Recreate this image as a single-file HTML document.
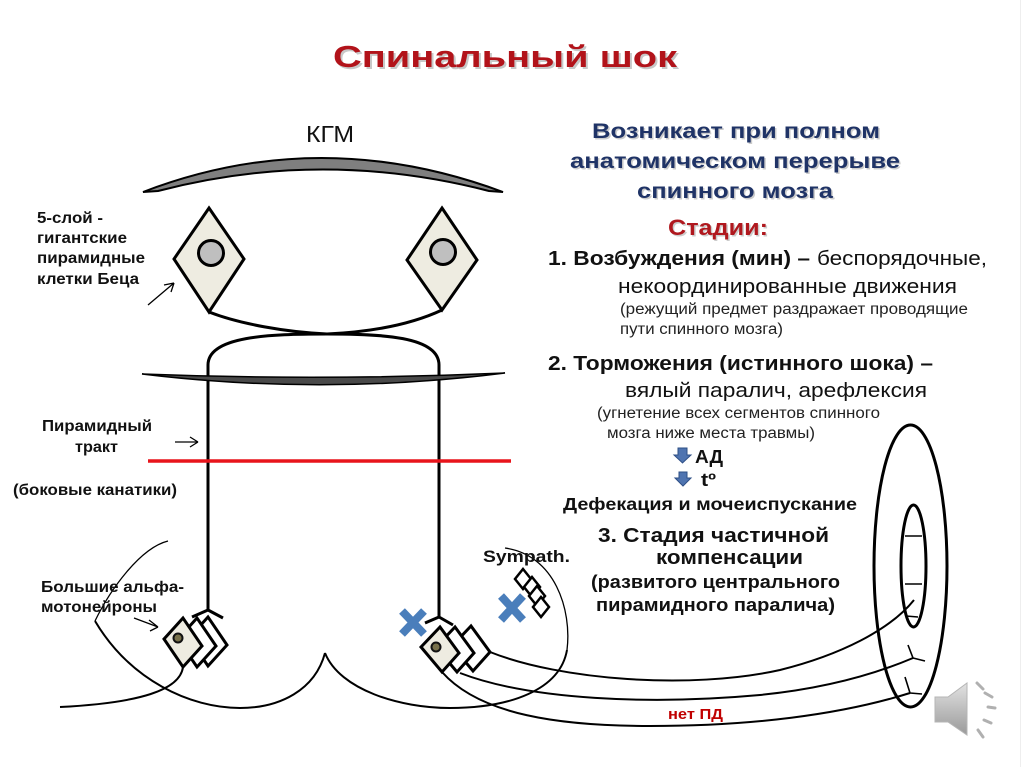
<!DOCTYPE html>
<html>
<head>
<meta charset="utf-8">
<style>
html,body{margin:0;padding:0;background:#fff;}
svg{display:block;}
text{font-family:"Liberation Sans","DejaVu Sans",sans-serif;}
</style>
</head>
<body>
<svg width="1024" height="767" viewBox="0 0 1024 767" xmlns="http://www.w3.org/2000/svg">
<defs>
<linearGradient id="spk" x1="0" y1="0" x2="0" y2="1">
<stop offset="0" stop-color="#e2e2e2"/>
<stop offset="1" stop-color="#9a9a9a"/>
</linearGradient>
</defs>
<rect width="1024" height="767" fill="#fff"/>
<line x1="1020.5" y1="0" x2="1020.5" y2="767" stroke="#eeeeee" stroke-width="1"/>

<!-- Title -->
<text x="335" y="69" font-size="31" font-weight="bold" fill="#9a9a9a" fill-opacity="0.55" textLength="344" lengthAdjust="spacingAndGlyphs">Спинальный шок</text>
<text x="333" y="67" font-size="31" font-weight="bold" fill="#b2131a" textLength="344" lengthAdjust="spacingAndGlyphs">Спинальный шок</text>

<!-- KGM -->
<text x="306" y="142" font-size="23" fill="#111" textLength="48" lengthAdjust="spacingAndGlyphs">КГМ</text>

<!-- Skull arc -->
<path d="M143,192 Q320,124 503,192 L489,191 Q322,148 158,191 Z" fill="#7f7f7f" stroke="#000" stroke-width="2"/>

<!-- Crossing tracts -->
<path d="M209,312 C 240,324 285,332 327,334 C 380,334 439,336 439,365 L439,617" fill="none" stroke="#000" stroke-width="3"/>
<path d="M442,310 C 410,325 370,332 327,334 C 270,334 208,336 208,365 L208,610" fill="none" stroke="#000" stroke-width="3"/>

<!-- Diamonds (Betz cells) -->
<polygon points="209,208 244,259 209,312 174,259" fill="#eeece1" stroke="#000" stroke-width="3" stroke-linejoin="miter"/>
<circle cx="211" cy="253" r="12.5" fill="#bfbfbf" stroke="#000" stroke-width="3"/>
<polygon points="442,208 477,260 442,310 407,260" fill="#eeece1" stroke="#000" stroke-width="3"/>
<circle cx="443" cy="252" r="12.5" fill="#bfbfbf" stroke="#000" stroke-width="3"/>

<!-- Lens line -->
<path d="M142,374 Q323,381 505,373 Q323,396 142,374 Z" fill="#4a4a4a" stroke="#000" stroke-width="1.5"/>

<!-- Red line -->
<line x1="148" y1="461" x2="511" y2="461" stroke="#e8141b" stroke-width="3.5"/>

<!-- Forks -->
<path d="M208,610 L192,617 M208,610 L223,618" fill="none" stroke="#000" stroke-width="3"/>
<path d="M439,617 L425,623 M439,617 L453,625" fill="none" stroke="#000" stroke-width="3"/>

<!-- Left U curves -->
<path d="M168,541 C 140,548 110,590 95,621" fill="none" stroke="#000" stroke-width="1.3"/>
<path d="M95,621 C 130,680 190,708 240,708 C 280,708 315,690 325,653" fill="none" stroke="#000" stroke-width="2"/>
<!-- Right U curves -->
<path d="M325,653 C 340,690 400,708 450,708 C 510,708 560,690 567,650" fill="none" stroke="#000" stroke-width="2"/>
<path d="M567,650 C 572,610 555,555 505,548" fill="none" stroke="#000" stroke-width="1.3"/>

<!-- Left axon -->
<path d="M183,667 C 180,690 140,703 60,707" fill="none" stroke="#000" stroke-width="2"/>

<!-- Right axons -->
<path d="M490,652 C 560,680 690,690 780,670 C 840,655 890,630 914,600" fill="none" stroke="#000" stroke-width="2"/>
<path d="M906,616 L918,617" fill="none" stroke="#000" stroke-width="1.5"/>
<path d="M460,673 C 530,700 650,705 760,695 C 830,688 880,672 913,658" fill="none" stroke="#000" stroke-width="2"/>
<path d="M913,658 L908,645 M913,658 L925,661" fill="none" stroke="#000" stroke-width="1.6"/>
<path d="M442,672 C 480,715 560,726 650,726 C 750,726 840,715 910,693" fill="none" stroke="#000" stroke-width="2"/>
<path d="M910,693 L905,677 M910,693 L922,694" fill="none" stroke="#000" stroke-width="1.6"/>

<!-- Left motoneuron -->
<polygon points="208,617 189,638 208,666 227,645" fill="#fff" stroke="#000" stroke-width="3"/>
<polygon points="197,618 178,639 197,667 216,646" fill="#fff" stroke="#000" stroke-width="3"/>
<polygon points="183,618 164,639 183,667 202,646" fill="#eeece1" stroke="#000" stroke-width="3"/>
<circle cx="178" cy="638" r="4.5" fill="#77704a" stroke="#111" stroke-width="2"/>

<!-- Right motoneuron -->
<polygon points="471,626 452,646 473,671 490,652" fill="#fff" stroke="#000" stroke-width="3"/>
<polygon points="455,627 436,647 457,672 474,653" fill="#fff" stroke="#000" stroke-width="3"/>
<polygon points="440,627 421,647 442,672 459,653" fill="#eeece1" stroke="#000" stroke-width="3"/>
<circle cx="436" cy="647" r="4.5" fill="#77704a" stroke="#111" stroke-width="2"/>

<!-- Sympath diamonds -->
<polygon points="523,569 531,579 523,589 515,579" fill="#fff" stroke="#000" stroke-width="2.5"/>
<polygon points="532,577 540,587 532,597 524,587" fill="#fff" stroke="#000" stroke-width="2.5"/>
<polygon points="537,586 545,596 537,606 529,596" fill="#fff" stroke="#000" stroke-width="2.5"/>
<polygon points="541,597 549,607 541,617 533,607" fill="#fff" stroke="#000" stroke-width="2.5"/>

<!-- Blue X marks -->
<g stroke="#4a7ebb" stroke-width="8">
<path d="M402,611 L424,634 M424,611 L402,634"/>
<path d="M501,596 L523,620 M523,596 L501,620"/>
</g>

<!-- Ring -->
<ellipse cx="910.5" cy="566" rx="36.5" ry="141" fill="none" stroke="#000" stroke-width="3"/>
<ellipse cx="913.5" cy="566" rx="12.5" ry="61" fill="none" stroke="#000" stroke-width="3"/>
<path d="M905,536 L922,536 M905,584 L922,584" stroke="#000" stroke-width="1.5"/>

<!-- Speaker -->
<polygon points="935,697 948,697 967,683 967,735 948,722 935,722" fill="url(#spk)" stroke="#b5b5b5" stroke-width="1"/>
<g stroke="#b0b0b0" stroke-width="3" stroke-linecap="round">
<path d="M977,683 L983,689"/>
<path d="M985,693 L992,697"/>
<path d="M988,707 L995,708"/>
<path d="M984,720 L991,723"/>
<path d="M978,730 L983,737"/>
</g>

<!-- Label arrows -->
<g stroke="#000" stroke-width="1.3" fill="none">
<path d="M148,305 L174,283 M174,283 L164,285 M174,283 L171,292"/>
<path d="M175,442 L198,442 M198,442 L190,437 M198,442 L190,447"/>
<path d="M134,618 L158,627 M158,627 L149,620 M158,627 L150,631"/>
</g>

<!-- Blue down arrows -->
<polygon points="678,448 687,448 687,455 691,455 682.5,463 674,455 678,455" fill="#4f74b0" stroke="#2e4f86" stroke-width="1"/>
<polygon points="679,472 687,472 687,478 691,478 683,486 675,478 679,478" fill="#4f74b0" stroke="#2e4f86" stroke-width="1"/>

<!-- Left labels -->
<g font-size="16" font-weight="bold" fill="#111">
<text x="37" y="223" textLength="66" lengthAdjust="spacingAndGlyphs">5-слой -</text>
<text x="37" y="243" textLength="90" lengthAdjust="spacingAndGlyphs">гигантские</text>
<text x="37" y="263" textLength="108" lengthAdjust="spacingAndGlyphs">пирамидные</text>
<text x="37" y="284" textLength="102" lengthAdjust="spacingAndGlyphs">клетки Беца</text>
<text x="42" y="431" textLength="110" lengthAdjust="spacingAndGlyphs">Пирамидный</text>
<text x="75" y="452" textLength="43" lengthAdjust="spacingAndGlyphs">тракт</text>
<text x="13" y="495" textLength="164" lengthAdjust="spacingAndGlyphs">(боковые канатики)</text>
<text x="41" y="592" textLength="143" lengthAdjust="spacingAndGlyphs">Большие альфа-</text>
<text x="41" y="612" textLength="116" lengthAdjust="spacingAndGlyphs">мотонейроны</text>
</g>

<!-- Right header -->
<g font-size="21" font-weight="bold">
<g fill="#9a9a9a" fill-opacity="0.5">
<text x="593.5" y="139.5" textLength="288" lengthAdjust="spacingAndGlyphs">Возникает при полном</text>
<text x="571.5" y="169.5" textLength="330" lengthAdjust="spacingAndGlyphs">анатомическом перерыве</text>
<text x="638.5" y="199.5" textLength="196" lengthAdjust="spacingAndGlyphs">спинного мозга</text>
</g>
<g fill="#1f3366">
<text x="592" y="138" textLength="288" lengthAdjust="spacingAndGlyphs">Возникает при полном</text>
<text x="570" y="168" textLength="330" lengthAdjust="spacingAndGlyphs">анатомическом перерыве</text>
<text x="637" y="198" textLength="196" lengthAdjust="spacingAndGlyphs">спинного мозга</text>
</g>
</g>
<text x="669.5" y="236.5" font-size="22" font-weight="bold" fill="#9a9a9a" fill-opacity="0.5" textLength="100" lengthAdjust="spacingAndGlyphs">Стадии:</text>
<text x="668" y="235" font-size="22" font-weight="bold" fill="#b0181e" textLength="100" lengthAdjust="spacingAndGlyphs">Стадии:</text>

<!-- Stages -->
<g fill="#111">
<text x="548" y="265" font-size="20" font-weight="bold" textLength="262" lengthAdjust="spacingAndGlyphs">1. Возбуждения (мин) –</text>
<text x="817" y="265" font-size="20" textLength="170" lengthAdjust="spacingAndGlyphs">беспорядочные,</text>
<text x="618" y="293" font-size="20" textLength="339" lengthAdjust="spacingAndGlyphs">некоординированные движения</text>
<text x="620" y="314" font-size="15.5" fill="#222" textLength="348" lengthAdjust="spacingAndGlyphs">(режущий предмет раздражает проводящие</text>
<text x="620" y="334" font-size="15.5" fill="#222" textLength="163" lengthAdjust="spacingAndGlyphs">пути спинного мозга)</text>
<text x="548" y="370" font-size="20" font-weight="bold" textLength="385" lengthAdjust="spacingAndGlyphs">2. Торможения (истинного шока) –</text>
<text x="625" y="397" font-size="20" textLength="302" lengthAdjust="spacingAndGlyphs">вялый паралич, арефлексия</text>
<text x="597" y="418" font-size="15.5" fill="#222" textLength="283" lengthAdjust="spacingAndGlyphs">(угнетение всех сегментов спинного</text>
<text x="607" y="438" font-size="15.5" fill="#222" textLength="208" lengthAdjust="spacingAndGlyphs">мозга ниже места травмы)</text>
<text x="695" y="463" font-size="18" font-weight="bold" textLength="28" lengthAdjust="spacingAndGlyphs">АД</text>
<text x="701" y="486" font-size="18" font-weight="bold" textLength="15" lengthAdjust="spacingAndGlyphs">tº</text>
<text x="563" y="510" font-size="17.5" font-weight="bold" textLength="294" lengthAdjust="spacingAndGlyphs">Дефекация и мочеиспускание</text>
<text x="598" y="542" font-size="20" font-weight="bold" textLength="231" lengthAdjust="spacingAndGlyphs">3. Стадия частичной</text>
<text x="656" y="564" font-size="20" font-weight="bold" textLength="147" lengthAdjust="spacingAndGlyphs">компенсации</text>
<text x="591" y="588" font-size="18" font-weight="bold" textLength="249" lengthAdjust="spacingAndGlyphs">(развитого центрального</text>
<text x="596" y="611" font-size="18" font-weight="bold" textLength="239" lengthAdjust="spacingAndGlyphs">пирамидного паралича)</text>
<text x="483" y="562" font-size="17" font-weight="bold" textLength="87" lengthAdjust="spacingAndGlyphs">Sympath.</text>
</g>
<text x="668" y="719" font-size="14.5" font-weight="bold" fill="#c00000" textLength="55" lengthAdjust="spacingAndGlyphs">нет ПД</text>
</svg>
</body>
</html>
